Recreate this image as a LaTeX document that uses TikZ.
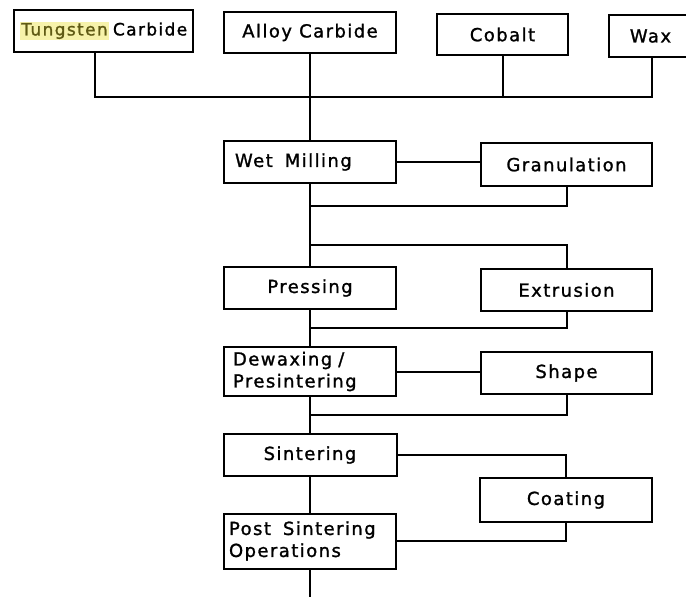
\documentclass[tikz,border=0pt]{standalone}
\usepackage{fontspec}
\setmainfont{DejaVu Sans}[LetterSpace=8, FakeBold=1.3]
\definecolor{hl}{RGB}{246,242,170}
\definecolor{tung}{RGB}{95,90,20}
\begin{document}
\begin{tikzpicture}[x=1pt,y=-1pt,
  box/.style={draw, line width=2pt, inner sep=0pt, font=\fontsize{18}{22}\selectfont},
  ln/.style={line width=2pt}]
\useasboundingbox (0,0) rectangle (686,597);
% top row
\node[box, minimum width=179, minimum height=42, font=\fontsize{17}{21}\selectfont] (tc) at (103.5,31)
  {{\setlength\fboxsep{1.5pt}\colorbox{hl}{\color{tung}Tungsten}}\hspace{-3pt} Carbide};
\node[box, minimum width=172, minimum height=41] (ac) at (310,32.5) {Alloy Carbide};
\node[box, minimum width=131, minimum height=41] (co) at (502.5,34.5) {Cobalt};
\node[box, minimum width=83, minimum height=42] (wx) at (650.5,36) {Wax};
% main column
\node[box, minimum width=172, minimum height=42, text width=150, align=left] (wm) at (310,162) {Wet\ \ Milling};
\node[box, minimum width=172, minimum height=42] (pr) at (310,288) {Pressing};
\node[box, minimum width=172, minimum height=49, text width=154, align=left] (dw) at (310,371.5) {Dewaxing /\\Presintering};
\node[box, minimum width=173, minimum height=42] (si) at (310,455) {Sintering};
\node[box, minimum width=172, minimum height=55, text width=162, align=left] (ps) at (310,541) {Post\ \ Sintering\\Operations};
% side column
\node[box, minimum width=171, minimum height=43] (gr) at (566.5,164.5) {Granulation};
\node[box, minimum width=171, minimum height=42] (ex) at (566.5,290) {Extrusion};
\node[box, minimum width=171, minimum height=42] (sh) at (566.5,373) {Shape};
\node[box, minimum width=172, minimum height=44] (ct) at (566,500) {Coating};
% coordinates
\coordinate (tcd) at (95,97);
\coordinate (wxd) at (652,97);
\coordinate (r1) at (310,206);
\coordinate (b1) at (310,245);
\coordinate (r2) at (310,328);
\coordinate (r3) at (310,415);
\coordinate (endp) at (310,597);
% top bus
\draw[ln] (tc.south -| tcd) -- (tcd) -- (wxd) -- (wx.south -| wxd);
\draw[ln] (co.south) -- (co.south |- tcd);
% main vertical
\draw[ln] (ac.south) -- (wm.north);
\draw[ln] (wm.south) -- (pr.north);
\draw[ln] (pr.south) -- (dw.north);
\draw[ln] (dw.south) -- (si.north);
\draw[ln] (si.south) -- (ps.north);
\draw[ln] (ps.south) -- (endp);
% branches
\draw[ln] (wm.east) -- (wm.east -| gr.west);
\draw[ln] (gr.south) |- (r1);
\draw[ln] (b1) -| (ex.north);
\draw[ln] (ex.south) |- (r2);
\draw[ln] (dw.east) -- (dw.east -| sh.west);
\draw[ln] (sh.south) |- (r3);
\draw[ln] (si.east) -| (ct.north);
\draw[ln] (ct.south) |- (ps.east);
\end{tikzpicture}
\end{document}
